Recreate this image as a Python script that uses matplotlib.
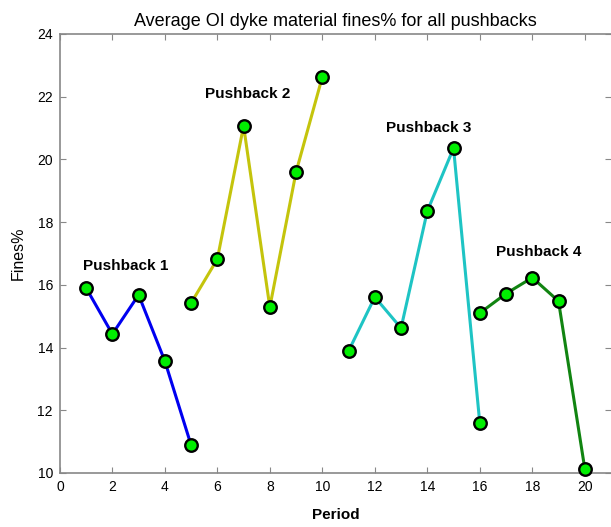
import matplotlib
matplotlib.use("Agg")
import matplotlib.pyplot as plt

plt.rcParams["font.family"] = ["Liberation Sans", "DejaVu Sans"]

# period / fines% for each pushback
pb1_period = [1, 2, 3, 4, 5]
pb1_fines = [15.90, 14.43, 15.68, 13.57, 10.89]
pb2_period = [5, 6, 7, 8, 9, 10]
pb2_fines = [15.42, 16.82, 21.07, 15.29, 19.60, 22.63]
pb3_period = [11, 12, 13, 14, 15, 16]
pb3_fines = [13.89, 15.61, 14.62, 18.35, 20.36, 11.59]
pb4_period = [16, 17, 18, 19, 20]
pb4_fines = [15.10, 15.72, 16.23, 15.48, 10.14]

labels = ["Pushback 1", "Pushback 2", "Pushback 3", "Pushback 4"]
label_x = [2.5, 7.15, 14.07, 18.25]
label_y = [16.6, 22.1, 21.0, 17.05]

series = [
    (pb1_period, pb1_fines, "#0000f0"),
    (pb2_period, pb2_fines, "#c4c40c"),
    (pb3_period, pb3_fines, "#1ec4c4"),
    (pb4_period, pb4_fines, "#118411"),
]

fig = plt.figure(figsize=(6.11, 5.27), dpi=100)
ax = fig.add_axes([0.098, 0.1025, 0.902, 0.833])

for x, y, c in series:
    ax.plot(x, y, "-", color=c, lw=2.2, marker="o", markersize=9,
            markerfacecolor="#00ee00", markeredgecolor="black",
            markeredgewidth=1.7, zorder=3, clip_on=False)

for lab, lx, ly in zip(labels, label_x, label_y):
    ax.text(lx, ly, lab, ha="center", va="center", fontsize=11,
            fontweight="bold")

ax.set_xlim(0, 21)
ax.set_ylim(10, 24)
ax.set_xticks(range(0, 21, 2))
ax.set_yticks(range(10, 25, 2))
ax.tick_params(direction="in", top=True, right=True, length=4,
               color="#888888", labelsize=10, pad=5)
for s in ax.spines.values():
    s.set_color("#888888")
    s.set_linewidth(1.2)
ax.spines["right"].set_visible(False)

ax.set_title("Average OI dyke material fines% for all pushbacks",
             fontsize=13, pad=6)
ax.set_xlabel("Period", fontsize=11, fontweight="bold", labelpad=10)
ax.set_ylabel("Fines%", fontsize=11.5, labelpad=8)

fig.savefig("out.png", dpi=100)
